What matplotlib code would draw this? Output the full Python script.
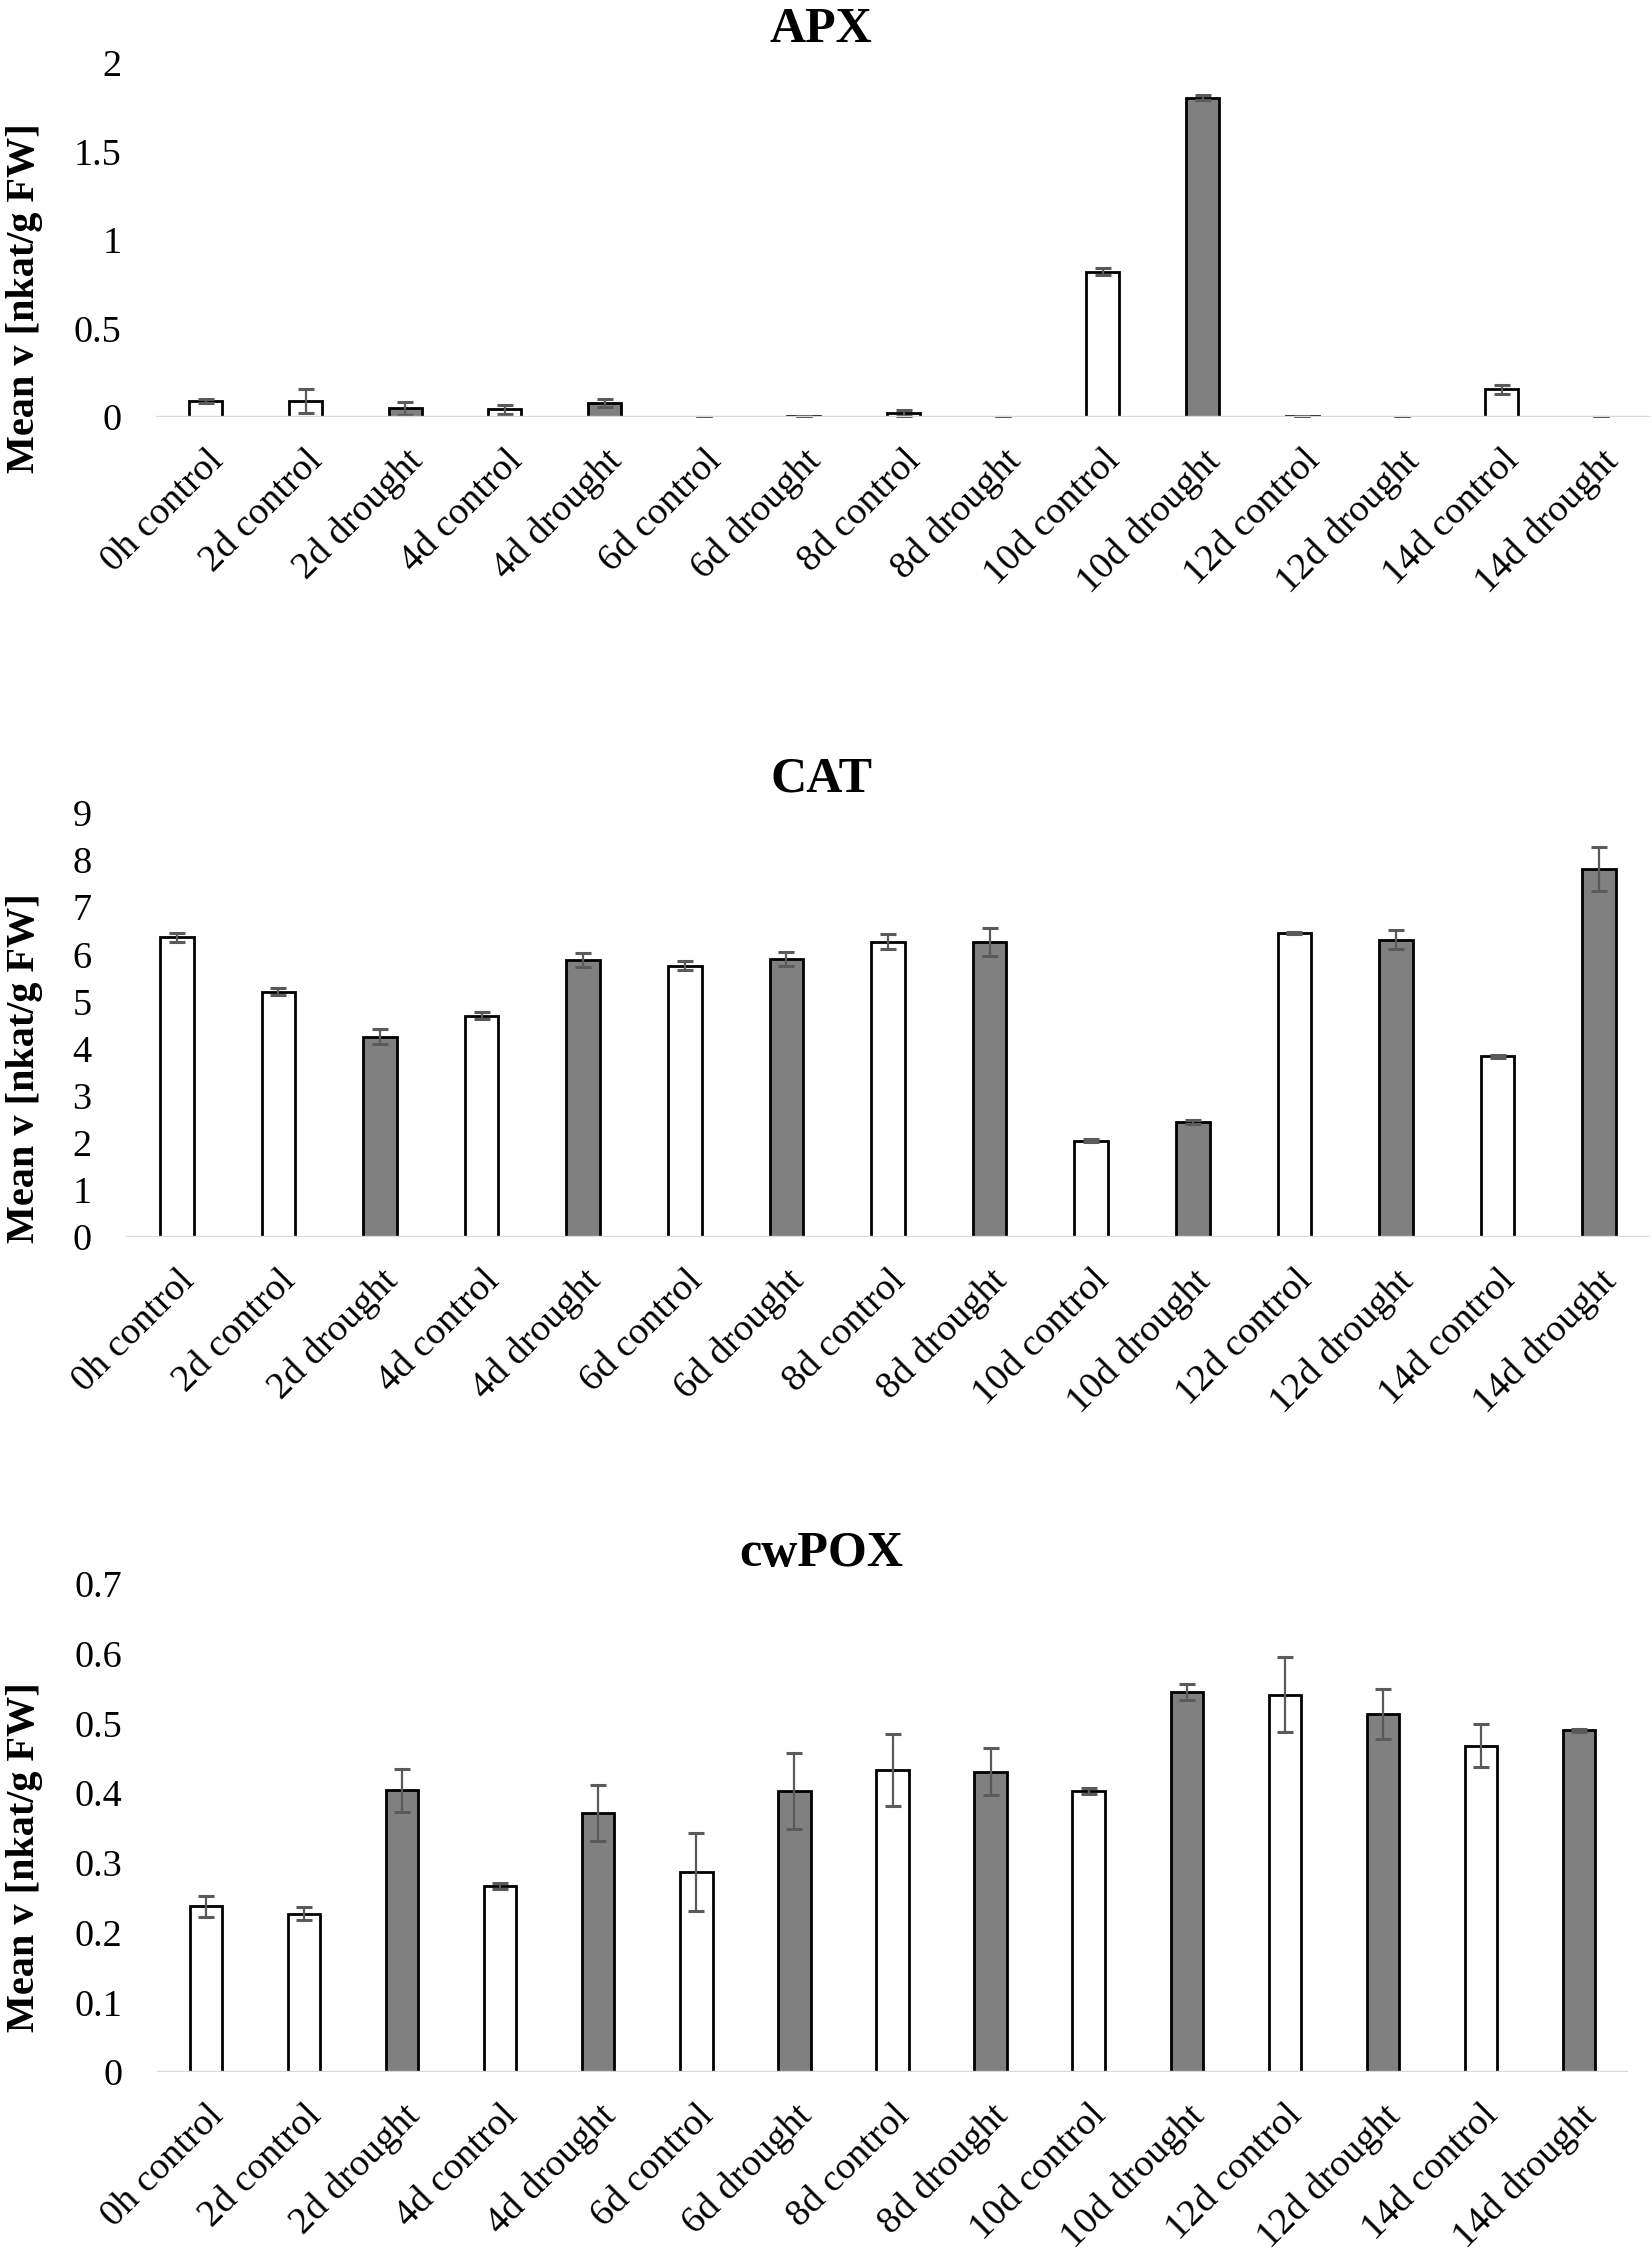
import numpy as np
import matplotlib
matplotlib.use('Agg')
import matplotlib.pyplot as plt
from matplotlib.transforms import ScaledTranslation

plt.rcParams['font.family'] = 'Liberation Serif'

categories = ['0h control', '2d control', '2d drought', '4d control', '4d drought',
              '6d control', '6d drought', '8d control', '8d drought', '10d control',
              '10d drought', '12d control', '12d drought', '14d control', '14d drought']

apx_mean = [0.090, 0.090, 0.049, 0.043, 0.077, 0.0, 0.003, 0.021, 0.0, 0.821,
            1.804, 0.003, 0.0, 0.156, 0.0]
apx_err = [0.012, 0.067, 0.036, 0.025, 0.022, 0.0, 0.002, 0.018, 0.0, 0.020,
           0.015, 0.002, 0.0, 0.025, 0.0]

cat_mean = [6.36, 5.21, 4.25, 4.70, 5.88, 5.76, 5.90, 6.27, 6.26, 2.04,
            2.44, 6.45, 6.31, 3.84, 7.81]
cat_err = [0.10, 0.08, 0.16, 0.07, 0.15, 0.10, 0.14, 0.16, 0.30, 0.03,
           0.04, 0.02, 0.20, 0.03, 0.46]

pox_mean = [0.238, 0.227, 0.404, 0.267, 0.372, 0.287, 0.403, 0.433, 0.431, 0.403,
            0.545, 0.541, 0.514, 0.468, 0.490]
pox_err = [0.015, 0.009, 0.031, 0.004, 0.040, 0.056, 0.055, 0.052, 0.034, 0.004,
           0.012, 0.054, 0.036, 0.031, 0.002]

W, H = 1652, 2253
fig = plt.figure(figsize=(W / 100, H / 100), dpi=100)

# name, values, errors, ymax, step, (left, right, top, bottom) in px, title baseline, ylabel center
panels = [
    ('APX', apx_mean, apx_err, 2, 0.5, (156, 1651, 63, 417), 42, 298),
    ('CAT', cat_mean, cat_err, 9, 1, (126, 1650, 813, 1237), 792, 1068),
    ('cwPOX', pox_mean, pox_err, 0.7, 0.1, (157, 1628, 1584, 2072), 1566, 1857),
]

x = np.arange(len(categories))
colors = ['#808080' if 'drought' in c else 'white' for c in categories]
shift = ScaledTranslation(8 / 100, 0, fig.dpi_scale_trans)

for name, vals, errs, ymax, step, (l, r, t, b), title_y, lab_y in panels:
    ax = fig.add_axes([l / W, 1 - b / H, (r - l) / W, (b - t) / H])
    ax.bar(x, vals, width=0.33, color=colors, edgecolor='black', linewidth=2, zorder=2)
    ax.errorbar(x, vals, yerr=errs, fmt='none', ecolor='#5a5a5a', elinewidth=1.6,
                capsize=6, capthick=2.2, zorder=3)
    ax.axhline(0, color='#d9d9d9', linewidth=2.4, zorder=4)
    ax.set_xlim(-0.5, len(categories) - 0.5)
    ax.set_ylim(0, ymax)
    ax.set_yticks(np.round(np.arange(0, ymax + step / 2, step), 3))
    ax.yaxis.set_major_formatter('{x:g}')
    ax.set_xticks(x)
    ax.set_xticklabels(categories, rotation=45, ha='right', va='top', rotation_mode='anchor')
    for lbl in ax.get_xticklabels():
        lbl.set_transform(lbl.get_transform() + shift)
    ax.tick_params(axis='x', length=0, pad=19, labelsize=27.5)
    ax.tick_params(axis='y', length=0, pad=25, labelsize=27.5)
    for s in ax.spines.values():
        s.set_visible(False)
    fig.text(0.497, 1 - title_y / H, name, ha='center', va='baseline',
             fontsize=36, fontweight='bold')
    fig.text(25 / W, 1 - lab_y / H, 'Mean v [nkat/g FW]', rotation=90,
             ha='center', va='center', fontsize=29, fontweight='bold')

fig.savefig('out.png', dpi=100)
